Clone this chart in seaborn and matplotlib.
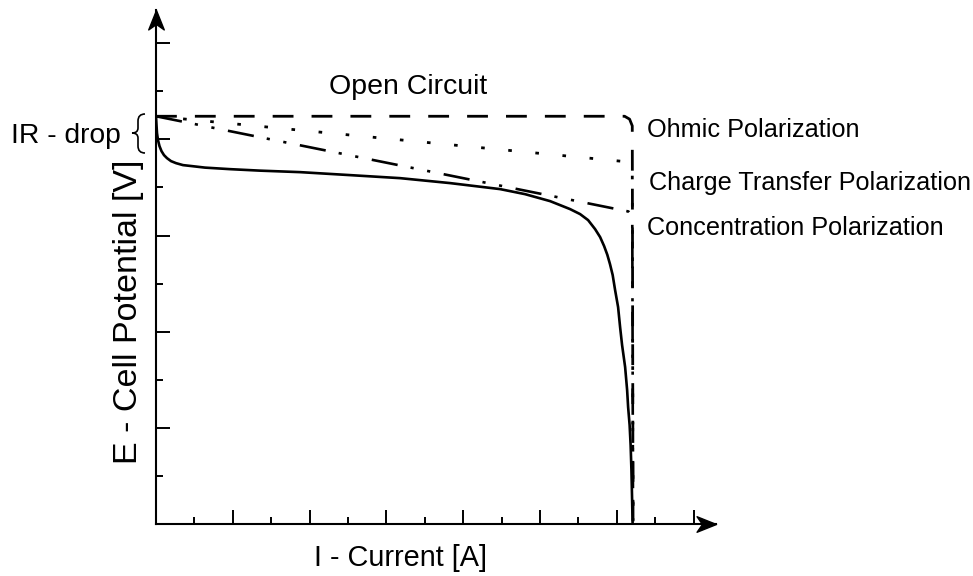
import matplotlib
matplotlib.use("Agg")
import matplotlib.pyplot as plt
from matplotlib.path import Path
from matplotlib.patches import PathPatch
import matplotlib.transforms as mtransforms
import seaborn as sns

# ---------------- data (axis units = tick spacings) ----------------
open_I = [0.0, 12.2, 12.33, 12.4, 12.42]
open_E = [8.48, 8.48, 8.42, 8.28, 0.0]

ohmic_I = [0.0, 12.3, 12.4, 12.42]
ohmic_E = [8.48, 7.53, 7.45, 0.0]

charge_I = [0.0, 12.3, 12.4, 12.42]
charge_E = [8.48, 6.5, 6.4, 0.0]

conc_I = [0.0, 0.013, 0.026, 0.052, 0.091, 0.143, 0.208, 0.286, 0.391, 0.521,
          0.703, 0.938, 1.276, 1.927, 2.708, 3.75, 5.052, 6.354, 7.656, 8.958,
          9.609, 10.26, 10.521, 10.781, 11.042, 11.25, 11.432, 11.563, 11.667,
          11.75, 11.82, 11.89, 11.953, 12.031, 12.083, 12.135, 12.214, 12.266,
          12.292, 12.331, 12.357, 12.378, 12.396, 12.409]
conc_E = [8.482, 8.295, 8.129, 7.983, 7.859, 7.755, 7.672, 7.609, 7.547, 7.505,
          7.464, 7.443, 7.412, 7.38, 7.349, 7.318, 7.256, 7.193, 7.09, 6.965,
          6.86, 6.715, 6.632, 6.549, 6.445, 6.32, 6.133, 5.967, 5.78, 5.6,
          5.405, 5.177, 4.865, 4.511, 4.096, 3.721, 3.264, 2.786, 2.432, 2.058,
          1.642, 1.123, 0.499, 0.0]

x_major = [2, 4, 6, 8, 10, 12, 14]
x_minor = [1, 3, 5, 7, 9, 11, 13]
y_major = [2, 4, 6, 8, 10]
y_minor = [1, 3, 5, 7, 9]

labels = {
    "open": "Open Circuit",
    "ohmic": "Ohmic Polarization",
    "charge": "Charge Transfer Polarization",
    "conc": "Concentration Polarization",
    "ir": "IR - drop",
    "xlabel": "I - Current [A]",
    "ylabel": "E - Cell Potential [V]",
}

# ---------------- style ----------------
sns.set_style("white")
plt.rcParams["font.family"] = ["Liberation Sans", "DejaVu Sans"]
plt.rcParams["text.color"] = "black"

W, H = 973, 576
fig = plt.figure(figsize=(W / 100, H / 100), dpi=100)
ax = fig.add_axes([156 / W, 52 / H, 560 / W, 514 / H])
XMAX, YMAX = 14.58, 10.69
ax.set_xlim(0, XMAX)
ax.set_ylim(0, YMAX)

k = "black"
sns.lineplot(x=open_I, y=open_E, sort=False, estimator=None, ax=ax, color=k,
             lw=2.0, linestyle=(0, (7.5, 6.5)))
sns.lineplot(x=ohmic_I, y=ohmic_E, sort=False, estimator=None, ax=ax, color=k,
             lw=2.0, linestyle=(0, (1.3, 8.5)))
sns.lineplot(x=charge_I, y=charge_E, sort=False, estimator=None, ax=ax, color=k,
             lw=1.9, linestyle=(0, (10, 5, 1.2, 5.2, 1.2, 5.2)))
sns.lineplot(x=conc_I, y=conc_E, sort=False, estimator=None, ax=ax, color=k,
             lw=1.9)

# axes, ticks
for s in ["top", "right"]:
    ax.spines[s].set_visible(False)
for s in ["left", "bottom"]:
    ax.spines[s].set_linewidth(1.5)
    ax.spines[s].set_color(k)
ax.set_xticks(x_major)
ax.set_xticks(x_minor, minor=True)
ax.set_yticks(y_major)
ax.set_yticks(y_minor, minor=True)
ax.tick_params(which="both", bottom=True, left=True, top=False, right=False)
ax.tick_params(which="major", direction="in", length=10, width=1.4, color=k,
               labelbottom=False, labelleft=False)
ax.tick_params(which="minor", direction="in", length=5, width=1.4, color=k)
ax.grid(False)

# arrow heads (stealth shape)
right_head = Path([(0, 0), (-1, 0.4), (-0.72, 0), (-1, -0.4), (0, 0)],
                  [Path.MOVETO, Path.LINETO, Path.LINETO, Path.LINETO, Path.CLOSEPOLY])
up_head = Path([(0, 0), (0.4, -1), (0, -0.72), (-0.4, -1), (0, 0)],
               [Path.MOVETO, Path.LINETO, Path.LINETO, Path.LINETO, Path.CLOSEPOLY])
ax.plot([XMAX], [0], marker=right_head, ms=28, color=k, clip_on=False, lw=0)
ax.plot([0], [YMAX], marker=up_head, ms=28, color=k, clip_on=False, lw=0)

# text helpers in pixel coordinates (y downward)
def fx(px):
    return px / W

def fy(py):
    return 1 - py / H

fig.text(fx(408), fy(94), labels["open"], fontsize=20.5, ha="center", va="baseline", color=k)
fig.text(fx(647), fy(137), labels["ohmic"], fontsize=18.2, ha="left", va="baseline", color=k)
fig.text(fx(649), fy(190), labels["charge"], fontsize=18.2, ha="left", va="baseline", color=k)
fig.text(fx(647), fy(235), labels["conc"], fontsize=18.2, ha="left", va="baseline", color=k)
fig.text(fx(11), fy(143), labels["ir"], fontsize=20.3, ha="left", va="baseline", color=k)
fig.text(fx(400), fy(566), labels["xlabel"], fontsize=20.8, ha="center", va="baseline", color=k)
fig.text(fx(128), fy(312), labels["ylabel"], fontsize=24.5, ha="center", va="center",
         rotation=90, color=k)

# brace for IR-drop
pix = mtransforms.Affine2D().scale(1 / W, -1 / H).translate(0, 1) + fig.transFigure
bverts = [(145, 114), (138, 114), (138, 121), (138, 128), (138, 133), (132, 133),
          (138, 133), (138, 138), (138, 146), (138, 153), (145, 153)]
bcodes = [Path.MOVETO, Path.CURVE3, Path.CURVE3, Path.LINETO, Path.CURVE3, Path.CURVE3,
          Path.CURVE3, Path.CURVE3, Path.LINETO, Path.CURVE3, Path.CURVE3]
fig.patches.append(PathPatch(Path(bverts, bcodes), transform=pix, fill=False,
                             lw=1.2, edgecolor=k))

fig.savefig("out.png", dpi=100)
